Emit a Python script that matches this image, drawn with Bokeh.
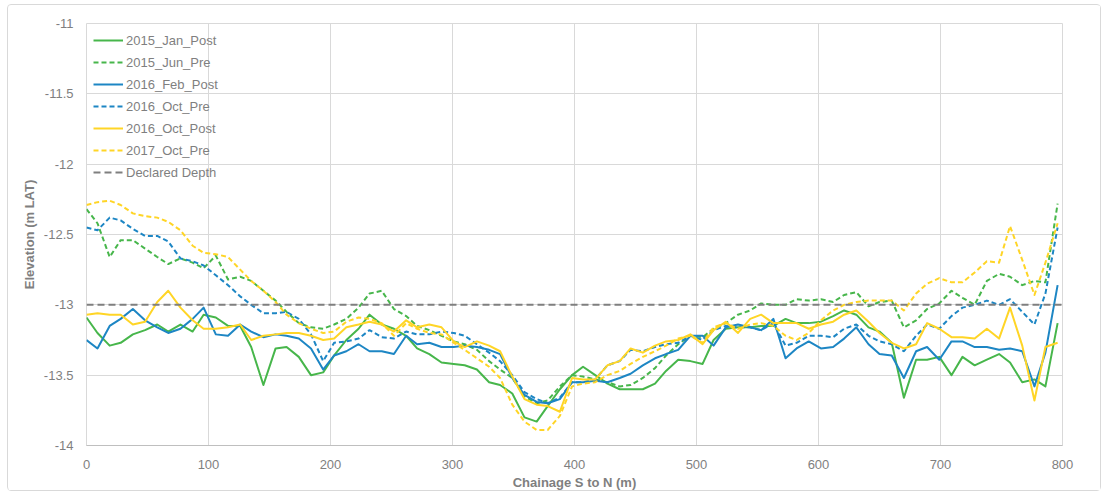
from bokeh.plotting import figure
from bokeh.models import Legend, LegendItem, FixedTicker, Range1d
from bokeh.embed import file_html
from bokeh.resources import INLINE

chainage = [0, 9, 19, 28, 38, 48, 58, 67, 77, 87, 96, 106, 116, 126,
            135, 145, 155, 164, 174, 184, 194, 203, 213, 223, 232, 242, 252, 262,
            271, 281, 291, 301, 310, 320, 330, 339, 349, 359, 369, 378, 388,
            398, 407, 417, 427, 437, 446, 456, 466, 475, 485, 495, 505, 514, 524,
            534, 544, 553, 563, 573, 582, 592, 602, 612, 621, 631, 641, 650,
            660, 670, 680, 689, 699, 709, 718, 728, 738, 748, 757, 767, 777, 786, 796]

jan2015_post = [-13.09, -13.20, -13.29, -13.27, -13.21, -13.18, -13.14, -13.19, -13.14, -13.19, -13.07, -13.09, -13.15, -13.15,
                -13.30, -13.57, -13.31, -13.30, -13.37, -13.50, -13.48, -13.36, -13.25, -13.17, -13.07, -13.14, -13.17, -13.22,
                -13.31, -13.35, -13.41, -13.42, -13.43, -13.46, -13.55, -13.57, -13.63, -13.80, -13.83, -13.72, -13.60,
                -13.50, -13.44, -13.50, -13.56, -13.60, -13.60, -13.60, -13.56, -13.47, -13.39, -13.40, -13.42, -13.25, -13.17,
                -13.16, -13.16, -13.15, -13.15, -13.10, -13.13, -13.13, -13.12, -13.08, -13.04, -13.07, -13.16, -13.19,
                -13.27, -13.66, -13.39, -13.39, -13.37, -13.50, -13.37, -13.43, -13.39, -13.35, -13.41, -13.55, -13.53, -13.58, -13.13]

jun2015_pre = [-12.32, -12.42, -12.66, -12.54, -12.54, -12.60, -12.66, -12.71, -12.67, -12.70, -12.74, -12.65, -12.82, -12.80,
               -12.83, -12.90, -12.97, -13.05, -13.13, -13.16, -13.17, -13.14, -13.10, -13.02, -12.92, -12.90, -13.03, -13.08,
               -13.15, -13.18, -13.22, -13.26, -13.28, -13.32, -13.40, -13.46, -13.52, -13.65, -13.70, -13.68, -13.58,
               -13.50, -13.51, -13.53, -13.55, -13.58, -13.57, -13.52, -13.45, -13.36, -13.28, -13.22, -13.23, -13.17, -13.13,
               -13.07, -13.04, -12.99, -13.00, -13.00, -12.96, -12.97, -12.96, -12.98, -12.93, -12.91, -13.01, -12.98,
               -12.97, -13.16, -13.11, -13.03, -12.99, -12.90, -12.95, -13.00, -12.83, -12.78, -12.80, -12.86, -12.83, -12.84, -12.28]

feb2016_post = [-13.25, -13.31, -13.15, -13.10, -13.03, -13.11, -13.16, -13.20, -13.17, -13.10, -13.02, -13.21, -13.22, -13.14,
                -13.19, -13.23, -13.21, -13.22, -13.24, -13.31, -13.46, -13.36, -13.33, -13.28, -13.33, -13.33, -13.35, -13.22,
                -13.28, -13.27, -13.30, -13.30, -13.29, -13.30, -13.32, -13.35, -13.52, -13.64, -13.69, -13.70, -13.67,
                -13.55, -13.55, -13.54, -13.55, -13.52, -13.49, -13.43, -13.38, -13.35, -13.32, -13.22, -13.22, -13.29, -13.16,
                -13.14, -13.16, -13.18, -13.10, -13.38, -13.31, -13.26, -13.31, -13.30, -13.24, -13.16, -13.28, -13.35,
                -13.36, -13.52, -13.33, -13.30, -13.39, -13.26, -13.26, -13.30, -13.30, -13.32, -13.31, -13.33, -13.58, -13.34, -12.86]

oct2016_pre = [-12.45, -12.47, -12.38, -12.40, -12.46, -12.51, -12.51, -12.55, -12.67, -12.69, -12.72, -12.79, -12.86, -12.94,
               -13.00, -13.06, -13.06, -13.05, -13.10, -13.21, -13.40, -13.27, -13.26, -13.24, -13.18, -13.23, -13.24, -13.19,
               -13.21, -13.21, -13.19, -13.20, -13.22, -13.28, -13.34, -13.40, -13.50, -13.62, -13.67, -13.70, -13.66,
               -13.55, -13.55, -13.53, -13.43, -13.40, -13.32, -13.33, -13.30, -13.28, -13.27, -13.22, -13.25, -13.18, -13.15,
               -13.16, -13.16, -13.18, -13.13, -13.29, -13.27, -13.22, -13.22, -13.23, -13.17, -13.14, -13.22, -13.26,
               -13.28, -13.33, -13.22, -13.14, -13.17, -13.08, -13.02, -13.00, -12.97, -13.00, -12.96, -13.05, -13.14, -12.92, -12.45]

oct2016_post = [-13.07, -13.06, -13.07, -13.07, -13.14, -13.12, -12.98, -12.90, -13.02, -13.11, -13.17, -13.17, -13.16, -13.14,
                -13.25, -13.22, -13.21, -13.20, -13.20, -13.22, -13.25, -13.24, -13.16, -13.14, -13.12, -13.14, -13.19, -13.11,
                -13.16, -13.14, -13.16, -13.26, -13.30, -13.26, -13.29, -13.33, -13.51, -13.67, -13.71, -13.72, -13.76,
                -13.52, -13.53, -13.53, -13.43, -13.40, -13.31, -13.34, -13.29, -13.26, -13.25, -13.21, -13.28, -13.18, -13.12,
                -13.20, -13.10, -13.07, -13.13, -13.13, -13.13, -13.17, -13.14, -13.12, -13.07, -13.04, -13.12, -13.20,
                -13.27, -13.31, -13.28, -13.13, -13.17, -13.23, -13.23, -13.24, -13.17, -13.24, -13.02, -13.29, -13.68, -13.30, -13.27]

oct2017_pre = [-12.29, -12.27, -12.26, -12.29, -12.35, -12.37, -12.38, -12.41, -12.47, -12.58, -12.63, -12.64, -12.66, -12.75,
               -12.83, -12.90, -12.98, -13.07, -13.13, -13.17, -13.20, -13.19, -13.12, -13.09, -13.10, -13.13, -13.22, -13.13,
               -13.17, -13.20, -13.21, -13.27, -13.32, -13.38, -13.44, -13.52, -13.71, -13.83, -13.89, -13.89, -13.79,
               -13.58, -13.56, -13.55, -13.50, -13.47, -13.42, -13.37, -13.33, -13.29, -13.24, -13.22, -13.27, -13.16, -13.13,
               -13.17, -13.14, -13.13, -13.15, -13.22, -13.25, -13.20, -13.11, -13.04, -13.00, -12.98, -12.97, -12.97,
               -12.97, -13.04, -12.92, -12.85, -12.81, -12.84, -12.84, -12.77, -12.69, -12.70, -12.44, -12.68, -12.93, -12.70, -12.42]

declared_x = [0, 800]
declared_depth = [-13.0, -13.0]

x_ticks = [0, 100, 200, 300, 400, 500, 600, 700, 800]
y_ticks = [-14, -13.5, -13, -12.5, -12, -11.5, -11]
y_labels = ["-14", "-13.5", "-13", "-12.5", "-12", "-11.5", "-11"]

GREEN = "#47B64B"
BLUE = "#1D86C4"
YELLOW = "#FFD526"
GRAY = "#7F7F7F"
TXT = "#7F7F7F"
FONT = "Liberation Sans"

p = figure(width=1094, height=487, x_range=Range1d(0, 800), y_range=Range1d(-14, -11),
           output_backend="svg", toolbar_location=None,
           min_border_left=78, min_border_right=40, min_border_top=18, min_border_bottom=40)
p.margin = (4, 7, 0, 7)
p.styles = {"border": "1px solid #d9d9d9", "border-radius": "4px"}
p.outline_line_color = "#d9d9d9"
p.background_fill_color = "white"
p.border_fill_color = "white"

p.xaxis.ticker = FixedTicker(ticks=x_ticks)
p.yaxis.ticker = FixedTicker(ticks=y_ticks)
p.yaxis.major_label_overrides = {t: l for t, l in zip(y_ticks, y_labels)}
p.xgrid.grid_line_color = "#d9d9d9"
p.ygrid.grid_line_color = "#d9d9d9"
for ax in (p.xaxis[0], p.yaxis[0]):
    ax.major_tick_line_color = None
    ax.minor_tick_line_color = None
    ax.major_label_text_font = FONT
    ax.major_label_text_font_size = "13px"
    ax.major_label_text_color = TXT
    ax.axis_label_text_font = FONT
    ax.axis_label_text_font_size = "13px"
    ax.axis_label_text_font_style = "bold"
    ax.axis_label_text_color = TXT
p.xaxis.axis_line_color = "#bfbfbf"
p.yaxis.axis_line_color = None
p.xaxis.major_label_standoff = 8
p.yaxis.major_label_standoff = 7
p.xaxis.axis_label = "Chainage S to N (m)"
p.yaxis.axis_label = "Elevation (m LAT)"
p.xaxis.axis_label_standoff = 3
p.yaxis.axis_label_standoff = 4

series = [
    ("2015_Jan_Post", jan2015_post, GREEN, "solid"),
    ("2015_Jun_Pre", jun2015_pre, GREEN, "5 3"),
    ("2016_Feb_Post", feb2016_post, BLUE, "solid"),
    ("2016_Oct_Pre", oct2016_pre, BLUE, "5 3"),
    ("2016_Oct_Post", oct2016_post, YELLOW, "solid"),
    ("2017_Oct_Pre", oct2017_pre, YELLOW, "5 3"),
]
items = []
for name, vals, col, dash in series:
    r = p.line(chainage, vals, line_color=col, line_width=2, line_dash=dash, line_join="round")
    items.append(LegendItem(label=name, renderers=[r]))
r = p.line(declared_x, declared_depth, line_color=GRAY, line_width=2, line_dash="7 4")
items.append(LegendItem(label="Declared Depth", renderers=[r]))

legend = Legend(items=items, location=(7, 263), orientation="vertical")
legend.glyph_width = 30
legend.glyph_height = 20
legend.label_height = 20
legend.label_standoff = 3
legend.spacing = 2
legend.padding = 8
legend.margin = 0
legend.border_line_color = None
legend.background_fill_alpha = 0
legend.label_text_font = FONT
legend.label_text_font_size = "13px"
legend.label_text_color = TXT
p.add_layout(legend)

open("out.html", "w").write(file_html(p, INLINE))
